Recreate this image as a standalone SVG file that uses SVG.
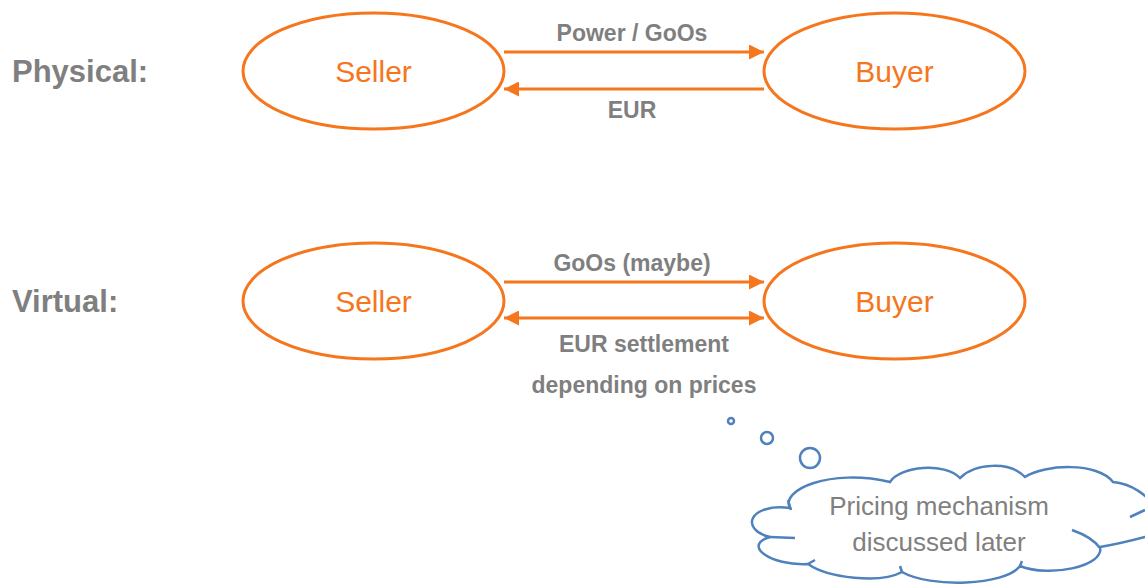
<svg xmlns="http://www.w3.org/2000/svg" width="1145" height="584" viewBox="0 0 1145 584">
<defs>
<style>
.node{fill:#fff;stroke:#f5761c;stroke-width:3}
.ntxt{font-family:"Liberation Sans",Arial,sans-serif;font-size:30px;fill:#f5761c;text-anchor:middle}
.lbl{font-family:"Liberation Sans",Arial,sans-serif;font-size:23px;font-weight:bold;fill:#7f7f7f;text-anchor:middle}
.head{font-family:"Liberation Sans",Arial,sans-serif;font-size:31px;font-weight:bold;fill:#7f7f7f}
.conn{stroke:#f5761c;stroke-width:3;fill:none}
.cloud{fill:#fff;stroke:#4f81bd;stroke-width:2.5}
.ctxt{font-family:"Liberation Sans",Arial,sans-serif;font-size:26px;fill:#808080;text-anchor:middle}
</style>
<marker id="arr" viewBox="0 0 10 10" refX="10" refY="5" markerWidth="5" markerHeight="5" orient="auto-start-reverse" markerUnits="strokeWidth">
<path d="M0,0 L10,5 L0,10 z" fill="#f5761c"/>
</marker>
</defs>
<text class="head" x="12" y="82">Physical:</text>
<text class="head" x="12" y="312">Virtual:</text>
<g id="seller1"><ellipse class="node" cx="373.5" cy="71" rx="130.5" ry="58"/><text class="ntxt" x="373.5" y="82">Seller</text></g>
<g id="buyer1"><ellipse class="node" cx="894.5" cy="71" rx="130.5" ry="58"/><text class="ntxt" x="894.5" y="82">Buyer</text></g>
<g id="seller2"><ellipse class="node" cx="373.5" cy="301" rx="130.5" ry="58"/><text class="ntxt" x="373.5" y="312">Seller</text></g>
<g id="buyer2"><ellipse class="node" cx="894.5" cy="301" rx="130.5" ry="58"/><text class="ntxt" x="894.5" y="312">Buyer</text></g>
<g id="connectors">
<line class="conn" x1="504" y1="52" x2="764" y2="52" marker-end="url(#arr)"/>
<line class="conn" x1="764" y1="89" x2="504" y2="89" marker-end="url(#arr)"/>
<line class="conn" x1="504" y1="282" x2="764" y2="282" marker-end="url(#arr)"/>
<line class="conn" x1="504" y1="318" x2="764" y2="318" marker-start="url(#arr)" marker-end="url(#arr)"/>
<text class="lbl" x="632" y="41">Power / GoOs</text>
<text class="lbl" x="632" y="118">EUR</text>
<text class="lbl" x="632" y="271">GoOs (maybe)</text>
<text class="lbl" x="644" y="352">EUR settlement</text>
<text class="lbl" x="644" y="393">depending on prices</text>
</g>
<g id="thought">
<circle cx="731" cy="421" r="3" fill="none" stroke="#4f81bd" stroke-width="2.5"/>
<circle cx="767" cy="438" r="6" fill="none" stroke="#4f81bd" stroke-width="2.5"/>
<circle cx="810" cy="458" r="10" fill="none" stroke="#4f81bd" stroke-width="2.5"/>
<path class="cloud" d="M790 508 C780 490 830 468 890 482 C900 466 945 462 960 478 C975 463 1010 461 1025 477 C1045 464 1098 462 1113 482 C1150 485 1178 530 1145 537 C1130 541 1112 545 1100 547 C1105 566 1050 578 1020 566 C1005 586 930 588 902 572 C880 584 828 578 808 564 C770 566 742 545 770 537 C740 530 748 503 790 508 Z"/>
<path d="M770 537 L795 538 M1072 530 Q1092 537 1100 548 M1130 517 L1145 510 M788 500 L791 510 M808 564 L815 560 M902 572 L900 566 M1020 566 L1022 561" fill="none" stroke="#4f81bd" stroke-width="2.5"/>
<text class="ctxt" x="939" y="515">Pricing mechanism</text>
<text class="ctxt" x="939" y="551">discussed later</text>
</g>
</svg>
